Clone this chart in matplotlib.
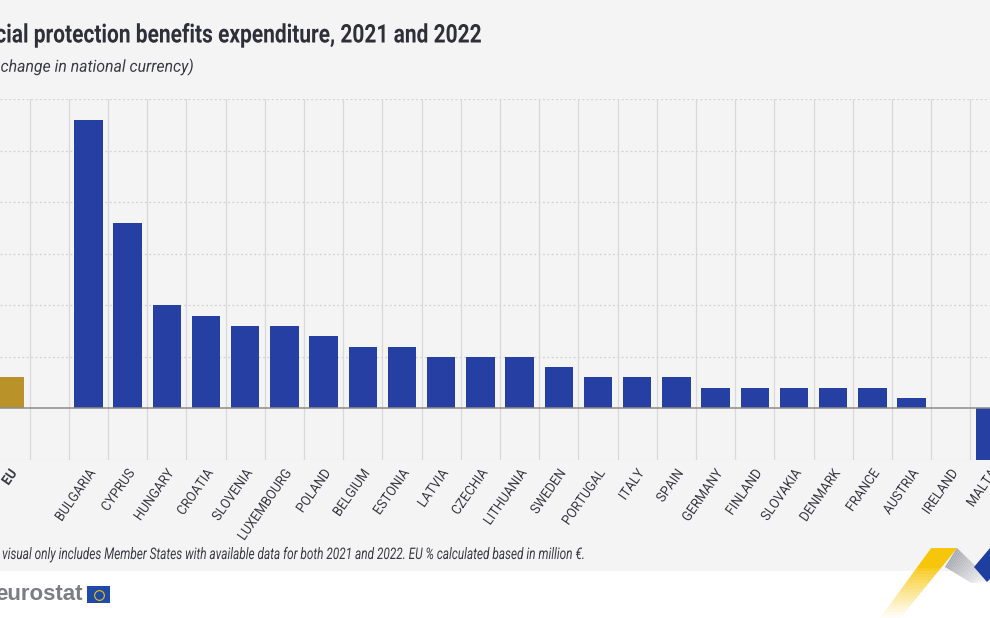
import matplotlib
matplotlib.use("Agg")
import matplotlib.pyplot as plt
import numpy as np
from matplotlib.patches import Polygon, Rectangle
from matplotlib.patheffects import AbstractPathEffect
from matplotlib.transforms import Affine2D, ScaledTranslation

W, H = 990, 618
FONT = ["Roboto", "DejaVu Sans"]

categories = ["EU", "", "BULGARIA", "CYPRUS", "HUNGARY", "CROATIA", "SLOVENIA", "LUXEMBOURG",
              "POLAND", "BELGIUM", "ESTONIA", "LATVIA", "CZECHIA", "LITHUANIA", "SWEDEN",
              "PORTUGAL", "ITALY", "SPAIN", "GERMANY", "FINLAND", "SLOVAKIA", "DENMARK",
              "FRANCE", "AUSTRIA", "IRELAND", "MALTA"]
values = [3, 0, 28, 18, 10, 9, 8, 8, 7, 6, 6, 5, 5, 5, 4, 3, 3, 3, 2, 2, 2, 2, 2, 1, 0, -5]
y_ticks = [-5, 0, 5, 10, 15, 20, 25, 30]

BG = "#f4f4f5"
BLUE = "#263fa3"
GOLD = "#b9932a"
DARK = "#2e2f38"
TEXT = "#3a3b44"


class Condense(AbstractPathEffect):
    """Narrow the glyphs along the text direction, around an anchor in display pixels."""

    def __init__(self, sx, x0, y0, angle=0):
        super().__init__()
        self.m = (Affine2D().translate(-x0, -y0).rotate_deg(-angle).scale(sx, 1)
                  .rotate_deg(angle).translate(x0, y0))

    def draw_path(self, renderer, gc, tpath, affine, rgbFace=None):
        renderer.draw_path(gc, tpath, affine + self.m, rgbFace)


def blend(c1, c2, t):
    return tuple((1 - t) * np.array(matplotlib.colors.to_rgb(c1)) + t * np.array(matplotlib.colors.to_rgb(c2)))


fig = plt.figure(figsize=(W / 100, H / 100), dpi=100, facecolor="white")
px = Affine2D().scale(1 / W, -1 / H).translate(0, 1) + fig.transFigure

fig.patches.append(Rectangle((0, 0), W, 571, transform=px, facecolor=BG, edgecolor="none", zorder=-5))

# x: category 0 centred at px 10, step 39.2; y: 30 at px 99, -5 at px 460
ax = fig.add_axes([0, 1 - 460 / H, 1, (460 - 99) / H])
ax.patch.set_alpha(0)
ax.set_xlim(-10 / 39.2, (W - 10) / 39.2)
ax.set_ylim(-5, 30)

colors = [GOLD if c == "EU" else BLUE for c in categories]
x = list(range(len(categories)))
ax.bar(x, values, width=0.72, color=colors, zorder=3)
ax.axhline(0, color="#8f8a87", lw=1.1, zorder=4)

for v in y_ticks:
    if v != 0:
        ax.axhline(v, color="#d2d2d2", lw=0.9, ls=(0, (1.5, 2)), zorder=1)
for b in range(len(categories)):
    ax.axvline(b + 0.5, color="#d9d9d9", lw=0.9, zorder=1)

for s in ax.spines.values():
    s.set_visible(False)
ax.set_yticks([])
ax.set_xticks(x)
ax.set_xticklabels(categories, rotation=55, rotation_mode="anchor", ha="right", va="center",
                   family=FONT, fontsize=10, color=TEXT)
ax.tick_params(axis="x", length=0, pad=7.9)
shift = ScaledTranslation(4 / 100, 0, fig.dpi_scale_trans)
for i, lab in enumerate(ax.get_xticklabels()):
    lab.set_transform(lab.get_transform() + shift)
    xd = ax.transData.transform((i, 0))[0] + 4
    lab.set_path_effects([Condense(0.92, xd, H - 471, 55)])
    if lab.get_text() == "EU":
        lab.set_fontweight("bold")

fig.text(483 / W, 1 - 35.5 / H, "Social protection benefits expenditure, 2021 and 2022", ha="right", va="center",
         family=FONT, fontweight="bold", fontsize=18.5, color=DARK,
         path_effects=[Condense(0.815, 483, H - 35.5)])
fig.text(193 / W, 1 - 67 / H, "(% change in national currency)", ha="right", va="center",
         family=FONT, style="italic", fontsize=12, color=TEXT,
         path_effects=[Condense(0.95, 193, H - 67)])
fig.text(586 / W, 1 - 554 / H,
         "This visual only includes Member States with available data for both 2021 and 2022. EU % calculated based in million €.",
         ha="right", va="center", family=FONT, style="italic", fontsize=11.5, color=TEXT,
         path_effects=[Condense(0.74, 586, H - 554)])

# eurostat logo
fig.text(83 / W, 1 - 594 / H, "eurostat", ha="right", va="center", family=["Liberation Sans", "DejaVu Sans"],
         fontweight="bold", fontsize=16, color="#7b7d80")
fig.patches.append(Rectangle((87, 586), 23, 17, transform=px, facecolor="#1f4aa8", edgecolor="none"))
fig.add_artist(plt.Line2D([98.5], [594.5], transform=px, marker="o", ms=7, mfc="none", mec="#f2c200",
                          mew=0.8, ls="none"))

# decorative chevrons: yellow fading to white at the foot, grey fading to the right, blue corner
n = 24
for i in range(n):
    t0, t1 = i / n, (i + 1) / n
    xl0, xl1 = 931 - 51 * t0, 931 - 51 * t1
    xr0, xr1 = 957 - 57 * t0, 957 - 57 * t1
    y0, y1 = 548 + 70 * t0, 548 + 70 * t1
    col = blend("#f6c60c", "#ffffff", max(0, (t0 - 0.25) / 0.75) ** 0.8)
    fig.patches.append(Polygon([(xl0, y0), (xr0, y0), (xr1, y1 + 0.5), (xl1, y1 + 0.5)], closed=True,
                               transform=px, facecolor=col, edgecolor="none"))
for i in range(n):
    t0, t1 = i / n, (i + 1) / n
    col = blend("#a9aab1", "#f4f4f5", t0)
    p0 = (957 + 33 * t0, 548 + 32 * t0)
    p1 = (957 + 33 * t1, 548 + 32 * t1)
    q1 = (945 + 33 * t1, 567 + 20 * t1 if t1 < 0.8 else 583)
    q0 = (945 + 33 * t0, 567 + 20 * t0 if t0 < 0.8 else 583)
    fig.patches.append(Polygon([p0, p1, q1, q0], closed=True, transform=px, facecolor=col, edgecolor="none"))
fig.patches.append(Polygon([(990, 548), (974, 567), (987, 582), (990, 579)],
                           closed=True, transform=px, facecolor="#1d3fa0", edgecolor="none"))

fig.savefig("out.png", dpi=100, facecolor="white")
